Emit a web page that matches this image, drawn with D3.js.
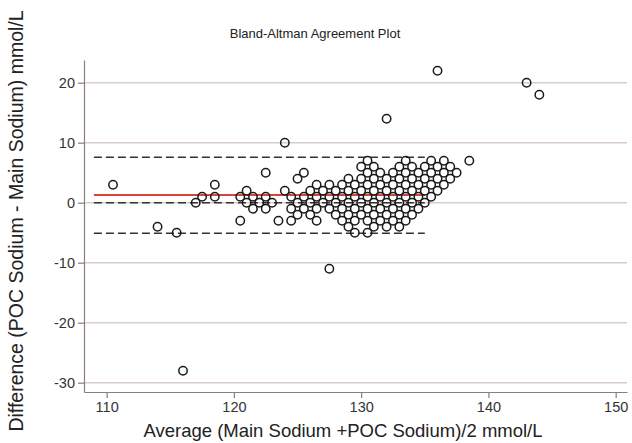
<!DOCTYPE html>
<html>
<head>
<meta charset="utf-8">
<script src="https://cdn.jsdelivr.net/npm/d3@7"></script>
<style>
  body { margin: 0; background: #fff; }
  text { font-family: Arial, "Liberation Sans", sans-serif; }
</style>
</head>
<body>
<svg id="chart"></svg>
<script>
// Chart size
const width = 632;
const height = 443;
const margin = { top: 60, right: 5, bottom: 51, left: 84 };

// Data: points grouped by difference row (values sit on a 0.5 / 1 lattice)
const rowDiffs = [7, 6, 5, 4, 3, 2, 1, 0, -1, -2, -3, -4, -5];
const rowAverages = [
    [130.5, 133.5, 135.5, 136.5, 138.5],
    [130, 131, 133, 134, 135, 136, 137],
    [122.5, 125.5, 130.5, 131.5, 132.5, 133.5, 134.5, 135.5, 136.5, 137.5],
    [125, 129, 130, 131, 132, 133, 134, 135, 136, 137],
    [110.5, 118.5, 126.5, 127.5, 128.5, 129.5, 130.5, 131.5, 132.5, 133.5, 134.5, 135.5, 136.5],
    [121, 124, 126, 127, 128, 129, 130, 131, 132, 133, 134, 135, 136],
    [117.5, 118.5, 120.5, 121.5, 122.5, 124.5, 125.5, 126.5, 127.5, 128.5, 129.5, 130.5, 131.5, 132.5, 133.5, 134.5, 135.5],
    [117, 121, 122, 123, 125, 126, 127, 128, 129, 130, 131, 132, 133, 134, 135],
    [121.5, 122.5, 124.5, 125.5, 126.5, 127.5, 128.5, 129.5, 130.5, 131.5, 132.5, 133.5, 134.5],
    [125, 126, 128, 129, 130, 131, 132, 133, 134],
    [120.5, 123.5, 124.5, 126.5, 128.5, 129.5, 130.5, 131.5, 132.5, 133.5],
    [114, 129, 131, 132, 133],
    [115.5, 129.5, 130.5]
];

// Points away from the main cloud
const outlierAvg = [124, 132, 136, 143, 144, 127.5, 116];
const outlierDiff = [10, 14, 22, 20, 18, -11, -28];

// Reference lines
const meanDiff = 1.28;
const dashedLevels = [7.57, 0, -5.1];
const refSpan = [109, 135];

// Axes
const xTicks = [110, 120, 130, 140, 150];
const yTicks = [-30, -20, -10, 0, 10, 20];

const points = [];
rowDiffs.forEach((d, i) => rowAverages[i].forEach(a => points.push({ avg: a, diff: d })));
outlierAvg.forEach((a, i) => points.push({ avg: a, diff: outlierDiff[i] }));

const svg = d3.select("#chart")
    .attr("width", width)
    .attr("height", height);

const x = d3.scaleLinear()
    .domain([108.22, 150.89])
    .range([margin.left, width - margin.right]);

const y = d3.scaleLinear()
    .domain([-31.55, 23.78])
    .range([height - margin.bottom, margin.top]);

// Title
svg.append("text")
    .attr("x", 315)
    .attr("y", 38)
    .attr("text-anchor", "middle")
    .attr("font-size", "13px")
    .attr("fill", "#222")
    .text("Bland-Altman Agreement Plot");

// Horizontal grid
svg.append("g")
    .selectAll("line")
    .data(yTicks)
    .enter()
    .append("line")
    .attr("x1", margin.left)
    .attr("x2", width - margin.right)
    .attr("y1", d => y(d))
    .attr("y2", d => y(d))
    .style("stroke", "#dacdc6")
    .style("stroke-width", 1.4);

// Dashed reference lines
svg.append("g")
    .selectAll("line")
    .data(dashedLevels)
    .enter()
    .append("line")
    .attr("x1", x(refSpan[0]))
    .attr("x2", x(refSpan[1]))
    .attr("y1", d => y(d))
    .attr("y2", d => y(d))
    .style("stroke", "#333")
    .style("stroke-width", 1.4)
    .style("stroke-dasharray", "8,4");

// Mean difference line
svg.append("line")
    .attr("x1", x(refSpan[0]))
    .attr("x2", x(refSpan[1]))
    .attr("y1", y(meanDiff))
    .attr("y2", y(meanDiff))
    .style("stroke", "#d8443c")
    .style("stroke-width", 1.8);

// Points
svg.append("g")
    .selectAll("circle")
    .data(points)
    .enter()
    .append("circle")
    .attr("cx", d => x(d.avg))
    .attr("cy", d => y(d.diff))
    .attr("r", 4.2)
    .style("fill", "none")
    .style("stroke", "#1a1a1a")
    .style("stroke-width", 1.5);

// X axis
const xAxis = svg.append("g")
    .attr("transform", `translate(0, ${height - margin.bottom})`)
    .call(d3.axisBottom(x).tickValues(xTicks).tickFormat(d => String(d))
        .tickSize(6).tickPadding(4).tickSizeOuter(0));

// Y axis
const yAxis = svg.append("g")
    .attr("transform", `translate(${margin.left}, 0)`)
    .call(d3.axisLeft(y).tickValues(yTicks).tickFormat(d => String(d))
        .tickSize(6).tickPadding(3).tickSizeOuter(0));

[xAxis, yAxis].forEach(g => {
    g.select(".domain").style("stroke", "#8a7f7a").style("stroke-width", 1.2);
    g.selectAll(".tick line").style("stroke", "#8a7f7a").style("stroke-width", 1.2);
    g.selectAll(".tick text")
        .attr("font-size", "14.5px")
        .attr("font-family", "Arial, 'Liberation Sans', sans-serif")
        .attr("fill", "#333");
});

// Axis titles
svg.append("text")
    .attr("x", 343)
    .attr("y", 437)
    .attr("text-anchor", "middle")
    .attr("font-size", "18.5px")
    .attr("fill", "#222")
    .text("Average (Main Sodium +POC Sodium)/2  mmol/L");

svg.append("text")
    .attr("transform", "translate(23, 221) rotate(-90)")
    .attr("text-anchor", "middle")
    .attr("font-size", "19.5px")
    .attr("fill", "#222")
    .text("Difference (POC Sodium - Main Sodium) mmol/L");
</script>
</body>
</html>
